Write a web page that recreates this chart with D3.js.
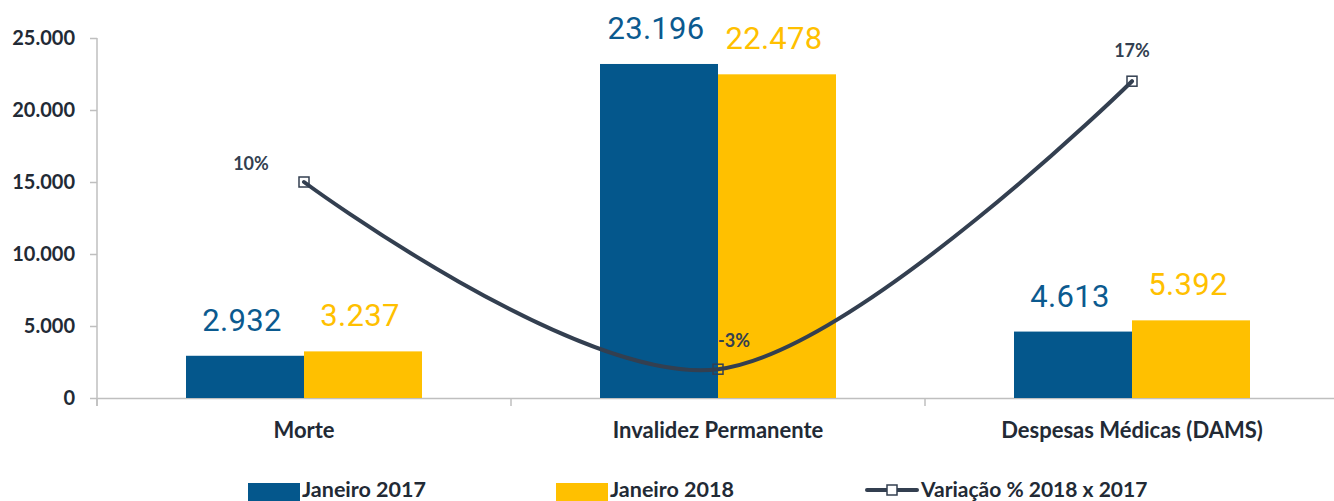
<!DOCTYPE html>
<meta charset="utf-8">
<style>
  body { margin: 0; background: #fff; }
  .axis path, .axis line { stroke: #bfbfbf; stroke-width: 1.5px; }
  .axis text { font-family: Lato, sans-serif; font-weight: bold; fill: #222a35; }
</style>
<body>
  <script src="https://d3js.org/d3.v7.min.js"></script>
  <div id="chart"></div>
  <script>
    // data
    var categories = ["Morte", "Invalidez Permanente", "Despesas Médicas (DAMS)"];
    var seriesNames = ["Janeiro 2017", "Janeiro 2018"];
    var jan2017 = [2932, 23196, 4613];
    var jan2018 = [3237, 22478, 5392];
    var variacao = [0.10, -0.03, 0.17];
    var variacaoLabels = ["10%", "-3%", "17%"];
    var lineName = "Variação % 2018 x 2017";
    var yTicks = [0, 5000, 10000, 15000, 20000, 25000];

    var width = 1334, height = 501;
    var margin = {left: 97, right: 1339, top: 38, bottom: 398};
    var blue = "#04578c", yellow = "#ffc000", lineColor = "#333f50";

    var svg = d3.select("#chart").append("svg")
        .attr("width", width)
        .attr("height", height);

    var x0 = d3.scaleBand()
        .domain(categories)
        .range([margin.left, margin.right])
        .paddingInner(0)
        .paddingOuter(0);

    var x1 = d3.scaleBand()
        .domain(seriesNames)
        .range([0, 236])
        .padding(0);

    var y = d3.scaleLinear()
        .domain([0, 25000])
        .range([margin.bottom, margin.top]);

    // secondary (hidden) axis for the percentage line
    var y2 = d3.scaleLinear()
        .domain([-0.05, 0.20])
        .range([margin.bottom, margin.top]);

    var fmt = d3.formatLocale({decimal: ",", thousands: ".", grouping: [3], currency: ["R$", ""]}).format(",d");

    // y axis
    var yAxis = svg.append("g")
        .attr("class", "axis")
        .attr("transform", "translate(" + margin.left + ",0)")
        .call(d3.axisLeft(y).tickValues(yTicks).tickFormat(fmt).tickSizeInner(7).tickSizeOuter(0).tickPadding(15));
    yAxis.select(".domain").attr("d", "M0," + margin.top + "V" + (margin.bottom + 8));
    yAxis.selectAll("text").style("font-size", "20px");

    // x axis
    var xAxis = svg.append("g")
        .attr("class", "axis")
        .attr("transform", "translate(0," + margin.bottom + ")")
        .call(d3.axisBottom(x0).tickSize(0).tickPadding(24));
    xAxis.selectAll("text").style("font-size", "22px");
    xAxis.selectAll(".boundary")
        .data(categories.map(function(c) { return x0(c); }).concat([margin.right]))
        .enter().append("line")
        .attr("x1", function(d) { return d; })
        .attr("x2", function(d) { return d; })
        .attr("y1", 0)
        .attr("y2", 8);

    // bars
    var rows = categories.map(function(c, i) {
      return {cat: c, values: [{s: seriesNames[0], v: jan2017[i], c: blue}, {s: seriesNames[1], v: jan2018[i], c: yellow}]};
    });

    var groups = svg.selectAll(".grp")
        .data(rows)
        .enter().append("g")
        .attr("class", "grp")
        .attr("transform", function(d) { return "translate(" + (x0(d.cat) + (x0.bandwidth() - 236) / 2) + ",0)"; });

    groups.selectAll("rect")
        .data(function(d) { return d.values; })
        .enter().append("rect")
        .attr("x", function(d) { return x1(d.s); })
        .attr("y", function(d) { return y(d.v); })
        .attr("width", x1.bandwidth())
        .attr("height", function(d) { return y(0) - y(d.v); })
        .attr("fill", function(d) { return d.c; });

    groups.selectAll(".val")
        .data(function(d) { return d.values; })
        .enter().append("text")
        .attr("class", "val")
        .attr("x", function(d) { return x1(d.s) + x1.bandwidth() / 2 - 3; })
        .attr("y", function(d) { return y(d.v) - 25; })
        .attr("text-anchor", "middle")
        .style("font-family", "Roboto, sans-serif")
        .style("font-size", "31px")
        .style("letter-spacing", "0.3px")
        .attr("fill", function(d) { return d.c === blue ? "#0b5a8f" : yellow; })
        .text(function(d) { return fmt(d.v); });

    // line
    var pts = categories.map(function(c, i) {
      return [x0(c) + x0.bandwidth() / 2, y2(variacao[i])];
    });

    svg.append("path")
        .attr("d", d3.line().curve(d3.curveCardinal.tension(0))(pts))
        .attr("fill", "none")
        .attr("stroke", lineColor)
        .attr("stroke-width", 4)
        .attr("stroke-linecap", "round");

    svg.selectAll(".mk")
        .data(pts)
        .enter().append("rect")
        .attr("class", "mk")
        .attr("x", function(d) { return d[0] - 5; })
        .attr("y", function(d) { return d[1] - 5; })
        .attr("width", 10)
        .attr("height", 10)
        .attr("fill", "none")
        .attr("stroke", lineColor)
        .attr("stroke-width", 1.5);

    var labelOffsets = [[-53, -12], [16, -22], [0, -24]];
    svg.selectAll(".pct")
        .data(pts)
        .enter().append("text")
        .attr("class", "pct")
        .attr("x", function(d, i) { return d[0] + labelOffsets[i][0]; })
        .attr("y", function(d, i) { return d[1] + labelOffsets[i][1]; })
        .attr("text-anchor", "middle")
        .style("font-family", "Lato, sans-serif")
        .style("font-weight", "bold")
        .style("font-size", "18px")
        .attr("fill", "#333f50")
        .text(function(d, i) { return variacaoLabels[i]; });

    // legend
    var legend = svg.append("g").attr("transform", "translate(0,489)");
    var legX = [248, 556];
    seriesNames.forEach(function(s, i) {
      legend.append("rect")
          .attr("x", legX[i]).attr("y", -6)
          .attr("width", 52).attr("height", 18)
          .attr("fill", i === 0 ? blue : yellow);
      legend.append("text")
          .attr("x", legX[i] + 54).attr("y", 8)
          .style("font-family", "Lato, sans-serif")
          .style("font-weight", "bold")
          .style("font-size", "21.5px")
          .attr("fill", "#222a35")
          .text(s);
    });
    legend.append("line")
        .attr("x1", 867).attr("x2", 917).attr("y1", 1).attr("y2", 1)
        .attr("stroke", lineColor).attr("stroke-width", 4).attr("stroke-linecap", "round");
    legend.append("rect")
        .attr("x", 887).attr("y", -4).attr("width", 10).attr("height", 10)
        .attr("fill", "#fff").attr("stroke", lineColor).attr("stroke-width", 1.5);
    legend.append("text")
        .attr("x", 921).attr("y", 8)
        .style("font-family", "Lato, sans-serif")
        .style("font-weight", "bold")
        .style("font-size", "21px")
        .attr("fill", "#222a35")
        .text(lineName);
  </script>
</body>
